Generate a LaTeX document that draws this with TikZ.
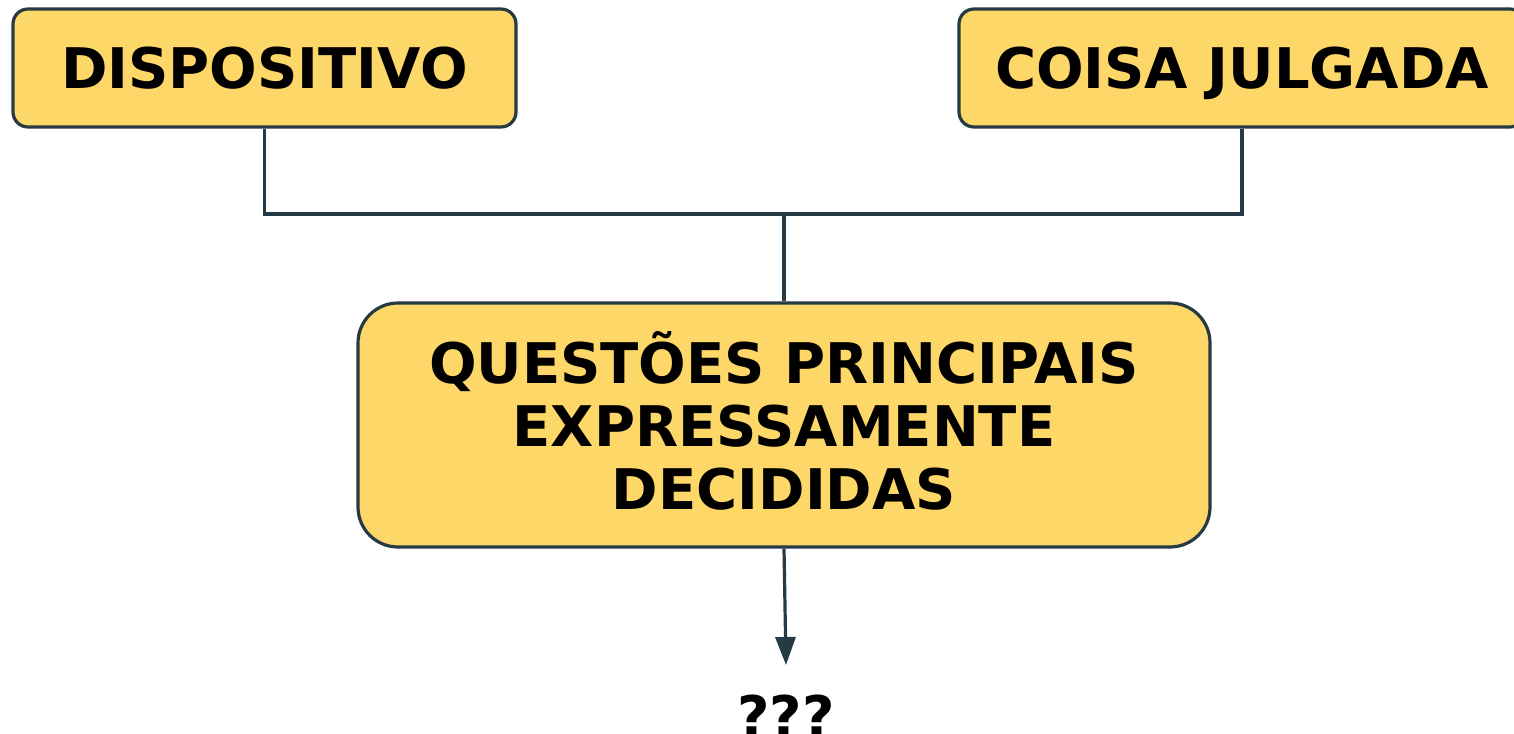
\documentclass[tikz,border=0pt]{standalone}
\usepackage{fontspec}
\setmainfont{DejaVu Sans}
\usetikzlibrary{arrows.meta}
\definecolor{boxfill}{HTML}{FDD868}
\definecolor{edge}{HTML}{263A46}
\begin{document}
\begin{tikzpicture}[x=1pt,y=-1pt,
  box/.style={draw=edge, fill=boxfill, line width=3.2pt, inner sep=0pt, align=center, text depth=0pt,
    font=\fontsize{56}{63}\selectfont\bfseries},
  conn/.style={draw=edge, line width=3.2pt},
  lbl/.style={font=\fontsize{56}{63}\selectfont\bfseries, inner sep=0pt}]
\useasboundingbox (0,0) rectangle (1514,733);
\node[box, rounded corners=15pt, minimum width=503pt, minimum height=118pt] (disp) at (264.5,68) {DISPOSITIVO};
\node[box, rounded corners=15pt, minimum width=566pt, minimum height=118pt] (coisa) at (1242,68) {COISA JULGADA};
\node[box, rounded corners=40pt, minimum width=852pt, minimum height=244pt] (main) at (784,425) {};
\node[lbl, align=center, text depth=0pt] (maintext) at (784,421) {QUESTÕES PRINCIPAIS\\EXPRESSAMENTE\\DECIDIDAS};
\coordinate (j) at (784,214);
\coordinate (tip) at (786,665);
\draw[conn] (disp.south) |- (j) -| (coisa.south);
\draw[conn] (j) -- (main.north);
\draw[conn, -{Triangle[length=28pt,width=20pt]}, color=edge] (main.south) -- (tip);
\node[lbl, anchor=base] (q) at (786,736) {???};
\end{tikzpicture}
\end{document}
